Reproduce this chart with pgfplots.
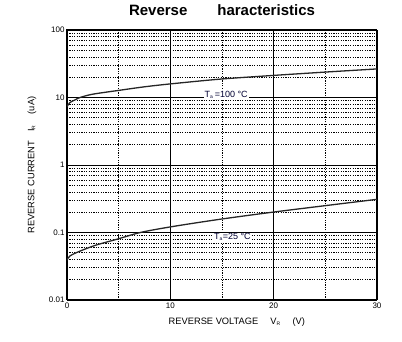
\documentclass[border=0pt]{standalone}
\usepackage{fontspec}
\setmainfont{Liberation Sans}
\usepackage{pgfplots}
\pgfplotsset{compat=1.18}
\begin{document}
\begin{tikzpicture}
\path[use as bounding box] (-67pt,-42pt) rectangle (335pt,300pt);
\begin{axis}[
  at={(0,0)}, anchor=south west,
  scale only axis, width=310pt, height=270pt,
  xmin=0, xmax=30,
  ymode=log, ymin=0.01, ymax=100,
  xtick={0,10,20,30}, xticklabels={0,10,20,30},
  minor xtick={5,15,25},
  ytick={0.01,0.1,1,10,100}, yticklabels={0.01,0.1,1,10,100},
  minor ytick={0.02,0.03,0.04,0.05,0.06,0.07,0.08,0.09,
               0.2,0.3,0.4,0.5,0.6,0.7,0.8,0.9,
               2,3,4,5,6,7,8,9,
               20,30,40,50,60,70,80,90},
  grid=both,
  major grid style={black, line width=0.8pt},
  minor grid style={black, line width=0.7pt, dash pattern=on 1.2pt off 1.2pt},
  axis line style={black, line width=1pt},
  tick style={draw=none},
  tick label style={font=\fontsize{8}{9}\selectfont},
  /pgf/number format/assume math mode=true,
  xticklabel style={yshift=1pt},
  yticklabel style={xshift=1pt},
  title={\textbf{Reverse\hspace{30pt}haracteristics}},
  title style={font=\fontsize{15}{17}\selectfont, at={(axis description cs:0.5,1.052)}, anchor=center},
  xlabel={REVERSE VOLTAGE\hspace{12pt}V\textsubscript{\tiny R}\hspace{12pt}(V)},
  xlabel style={font=\fontsize{9.3}{10}\selectfont, at={(axis description cs:0.548,-0.081)}, anchor=center},
  ylabel={REVERSE CURRENT\hspace{9pt}I\textsubscript{\tiny R}\hspace{11pt}(uA)},
  ylabel style={font=\fontsize{9.3}{10}\selectfont, at={(axis description cs:-0.113,0.5)}, anchor=center, rotate=0},
  clip=true,
]
\addplot[black!85, line width=1.3pt, smooth, tension=0.5] coordinates {
  (0,7.36) (0.29,8.43) (0.77,9.2) (1.26,10.0) (2.5,11.2) (5.1,12.8)
  (7.5,14.4) (10,15.9) (14.8,18.7) (19.9,21.2) (25,23.8) (30,26.5)
};
\addplot[black!85, line width=1.3pt, smooth, tension=0.5] coordinates {
  (0,0.0389) (0.29,0.045) (1.26,0.053) (2.8,0.065) (4.9,0.080) (7.1,0.1)
  (10,0.121) (14.8,0.157) (19.9,0.20) (25,0.25) (30,0.31)
};
\node[fill=white, inner sep=1pt, font=\fontsize{9}{10}\selectfont, text=black!80!blue]
  at (axis cs:15.4,11.1) {T\textsubscript{\tiny a}\,=100 \textdegree C};
\node[fill=white, inner sep=1pt, font=\fontsize{9}{10}\selectfont, text=black!80!blue]
  at (axis cs:16.0,0.085) {T\textsubscript{\tiny a}=25 \textdegree C};
\end{axis}
\end{tikzpicture}
\end{document}
